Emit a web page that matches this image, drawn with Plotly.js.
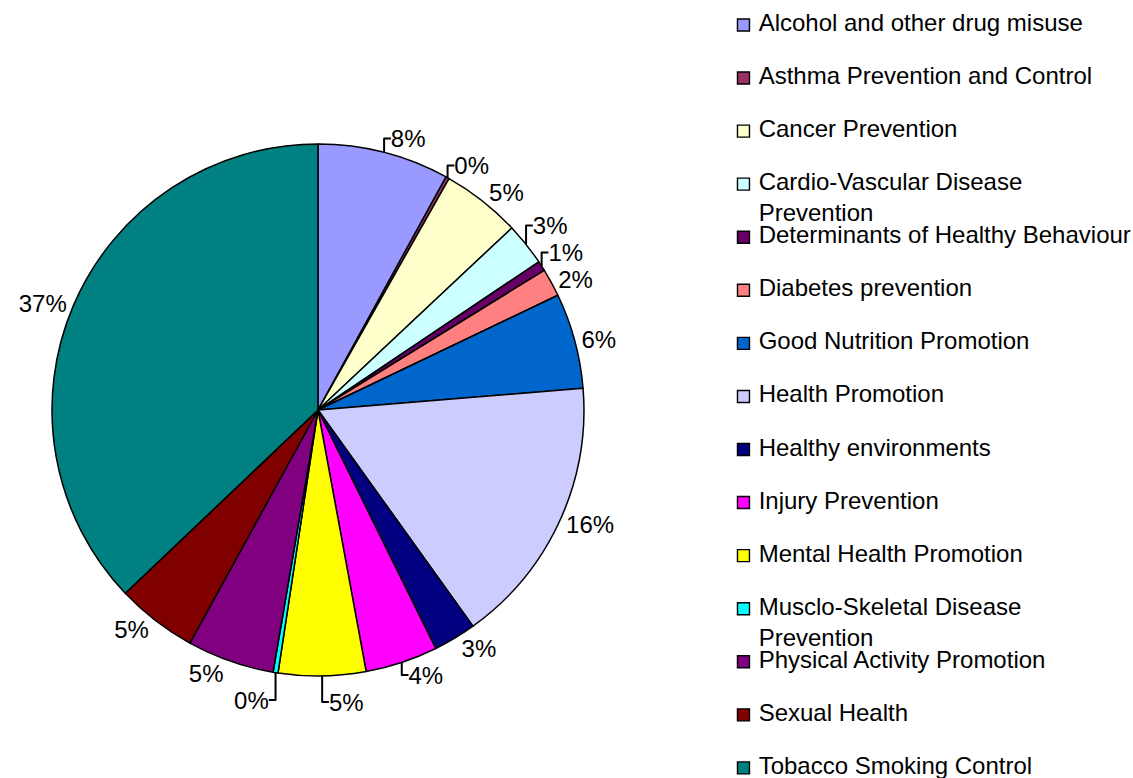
<!DOCTYPE html>
<html>
<head>
<meta charset="utf-8">
<script src="https://cdn.plot.ly/plotly-3.0.1.min.js"></script>
<style>
  html, body { margin: 0; padding: 0; background: #fff; }
  #chart { width: 1133px; height: 778px; }
</style>
</head>
<body>
<div id="chart"></div>
<script>
const categories = [
  "Alcohol and other drug misuse",
  "Asthma Prevention and Control",
  "Cancer Prevention",
  "Cardio-Vascular Disease<br>Prevention",
  "Determinants of Healthy Behaviour",
  "Diabetes prevention",
  "Good Nutrition Promotion",
  "Health Promotion",
  "Healthy environments",
  "Injury Prevention",
  "Mental Health Promotion",
  "Musclo-Skeletal Disease<br>Prevention",
  "Physical Activity Promotion",
  "Sexual Health",
  "Tobacco Smoking Control"
];

// share of funding, percent
const shares = [8.0, 0.2, 4.8, 2.6, 0.6, 1.7, 5.8, 16.4, 2.6, 4.4, 5.3, 0.3, 5.3, 4.9, 37.1];

const sliceColors = [
  "#9999FF", "#993366", "#FFFFCC", "#CCFFFF", "#660066",
  "#FF8080", "#0066CC", "#CCCCFF", "#000080", "#FF00FF",
  "#FFFF00", "#00FFFF", "#800080", "#800000", "#008080"
];

const FONT = "Liberation Sans, Arial, Helvetica, sans-serif";
const NBSP = "\u00a0";

const pieTrace = {
  type: "pie",
  labels: categories,
  values: shares,
  sort: false,
  direction: "clockwise",
  rotation: 0,
  marker: { colors: sliceColors, line: { color: "#000", width: 1.5 } },
  texttemplate: "%{percent:.0%}",
  textposition: "outside",
  textfont: { family: FONT, size: 24, color: "#000" },
  outsidetextfont: { family: FONT, size: 24, color: "#000" },
  hoverinfo: "none",
  showlegend: false,
  domain: { x: [0.0459, 0.5154], y: [0.1311, 0.8149] }
};

// hand-made legend so the entries keep Excel's even spacing;
// two-line names get an empty first line so their first line sits on the swatch
const legendText = categories.map(c => {
  const lines = c.split("<br>").map(l => NBSP + l);
  return lines.length > 1 ? " <br>" + lines.join("<br>") : lines[0];
});

const legendTrace = {
  type: "scatter",
  mode: "markers+text",
  x: categories.map(() => 0),
  y: categories.map((c, i) => i),
  text: legendText,
  textposition: "middle right",
  textfont: { family: FONT, size: 24, color: "#000" },
  marker: { symbol: "square", size: 12, color: sliceColors, line: { color: "#000", width: 1.4 } },
  cliponaxis: false,
  hoverinfo: "none",
  showlegend: false
};

const layout = {
  width: 1133,
  height: 778,
  margin: { l: 0, r: 0, t: 0, b: 0, pad: 0 },
  paper_bgcolor: "#fff",
  plot_bgcolor: "rgba(0,0,0,0)",
  showlegend: false,
  xaxis: { domain: [0.6562, 1], range: [0, 1], visible: false, fixedrange: true },
  yaxis: { domain: [0, 1], range: [14.19, -0.47], visible: false, fixedrange: true }
};

Plotly.newPlot("chart", [pieTrace, legendTrace], layout, { staticPlot: true });
</script>
</body>
</html>
